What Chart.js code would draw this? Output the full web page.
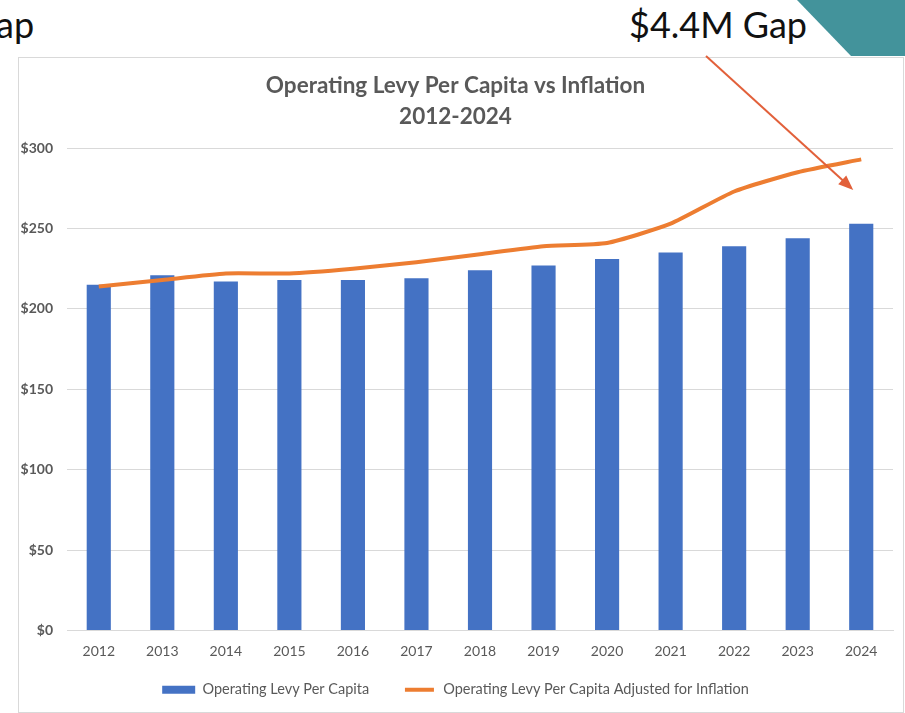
<!DOCTYPE html>
<html>
<head>
<meta charset="utf-8">
<script src="https://cdn.jsdelivr.net/npm/chart.js@4"></script>
<style>
  html, body { margin: 0; padding: 0; background: #fff; overflow: hidden; }
  #wrap { position: relative; width: 905px; height: 713px; }
  #levyChart { position: absolute; left: 0; top: 0; }
  .teal {
    position: absolute; left: 0; top: 0; width: 905px; height: 56px;
    background: #43939b;
    clip-path: polygon(797px 0, 905px 0, 905px 56px, 851px 56px);
  }
  .big {
    position: absolute; top: 0; font-family: Lato, "Open Sans", sans-serif;
    font-size: 36px; color: #111; line-height: 48px; white-space: nowrap;
  }
</style>
</head>
<body>
<div id="wrap">
  <div class="teal"></div>
  <div class="big" style="left:-4px;">ap</div>
  <div class="big" style="left:629px;">$4.4M Gap</div>
  <canvas id="levyChart" width="905" height="713"></canvas>
</div>
<script>
// chart data
const years = ['2012', '2013', '2014', '2015', '2016', '2017', '2018', '2019', '2020', '2021', '2022', '2023', '2024'];
const levyPerCapita = [215, 221, 217, 218, 218, 219, 224, 227, 231, 235, 239, 244, 253];
const levyAdjusted = [214, 218, 222, 222, 225, 229, 234, 239, 241, 253, 273, 285, 293];
const titleLines = ['Operating Levy Per Capita vs Inflation', '2012-2024'];
const seriesNames = ['Operating Levy Per Capita', 'Operating Levy Per Capita Adjusted for Inflation'];

const grey = '#595959';
const fontFamily = 'Lato, "Open Sans", sans-serif';

// box round the chart + the gap arrow
const decorations = {
    id: 'decorations',
    beforeDraw(chart) {
        const ctx = chart.ctx;
        ctx.save();
        ctx.fillStyle = '#fff';
        ctx.fillRect(18, 57, 885, 655);
        ctx.strokeStyle = '#d9d9d9';
        ctx.lineWidth = 1;
        ctx.strokeRect(18.5, 57.5, 885, 655);
        ctx.restore();
    },
    afterDraw(chart) {
        const ctx = chart.ctx;
        const x = chart.scales.x, y = chart.scales.y;
        // arrow points just above the last bar
        const tipX = x.getPixelForValue(years.length - 1) - 8;
        const tipY = y.getPixelForValue(274);
        const startX = 706, startY = 56;
        const ang = Math.atan2(tipY - startY, tipX - startX);
        const head = 16;
        ctx.save();
        ctx.strokeStyle = '#e2603a';
        ctx.fillStyle = '#e2603a';
        ctx.lineWidth = 2;
        ctx.beginPath();
        ctx.moveTo(startX, startY);
        ctx.lineTo(tipX - Math.cos(ang) * head * 0.8, tipY - Math.sin(ang) * head * 0.8);
        ctx.stroke();
        ctx.beginPath();
        ctx.moveTo(tipX, tipY);
        ctx.lineTo(tipX - head * Math.cos(ang - 0.38), tipY - head * Math.sin(ang - 0.38));
        ctx.lineTo(tipX - head * Math.cos(ang + 0.38), tipY - head * Math.sin(ang + 0.38));
        ctx.closePath();
        ctx.fill();
        ctx.restore();
    }
};

new Chart(document.getElementById('levyChart'), {
    data: {
        labels: years,
        datasets: [
            {
                type: 'line',
                label: seriesNames[1],
                data: levyAdjusted,
                borderColor: '#ed7d31',
                backgroundColor: '#ed7d31',
                borderWidth: 4,
                pointRadius: 0,
                tension: 0.18,
                order: 0
            },
            {
                type: 'bar',
                label: seriesNames[0],
                data: levyPerCapita,
                backgroundColor: '#4472c4',
                barPercentage: 0.38,
                categoryPercentage: 1,
                order: 1
            }
        ]
    },
    options: {
        responsive: false,
        animation: false,
        devicePixelRatio: 1,
        layout: { padding: { left: 18, top: 57, right: 12, bottom: 6 } },
        plugins: {
            title: {
                display: true,
                text: titleLines,
                color: grey,
                font: { family: fontFamily, size: 22.5, weight: 'bold', lineHeight: 1.38 },
                padding: { top: 13, bottom: 16 }
            },
            legend: {
                position: 'bottom',
                reverse: true,
                labels: {
                    color: grey,
                    font: { family: fontFamily, size: 14.5 },
                    boxWidth: 33,
                    boxHeight: 8,
                    padding: 12,
                    generateLabels(chart) {
                        return chart.data.datasets.map((ds, i) => ({
                            // trailing em spaces widen the gap after the first item
                            text: ds.type === 'bar' ? ds.label + '\u2003\u2003' : ds.label,
                            fillStyle: ds.type === 'line' ? ds.borderColor : ds.backgroundColor,
                            strokeStyle: '#fff',
                            lineWidth: ds.type === 'line' ? 4 : 0,
                            fontColor: grey,
                            hidden: false,
                            datasetIndex: i
                        }));
                    }
                }
            },
            tooltip: { enabled: false }
        },
        scales: {
            x: {
                grid: { display: false, drawTicks: false },
                border: { color: '#d9d9d9' },
                ticks: { color: grey, font: { family: fontFamily, size: 14 }, padding: 13 },
                afterFit(scale) { scale.height = 40; }
            },
            y: {
                min: 0,
                max: 300,
                ticks: {
                    stepSize: 50,
                    color: grey,
                    padding: 14,
                    font: { family: fontFamily, size: 14, weight: 'bold' },
                    callback: v => '$' + v
                },
                grid: { color: '#d9d9d9', drawTicks: false },
                border: { display: false },
                afterFit(scale) { scale.width = 49; }
            }
        }
    },
    plugins: [decorations]
});
</script>
</body>
</html>
